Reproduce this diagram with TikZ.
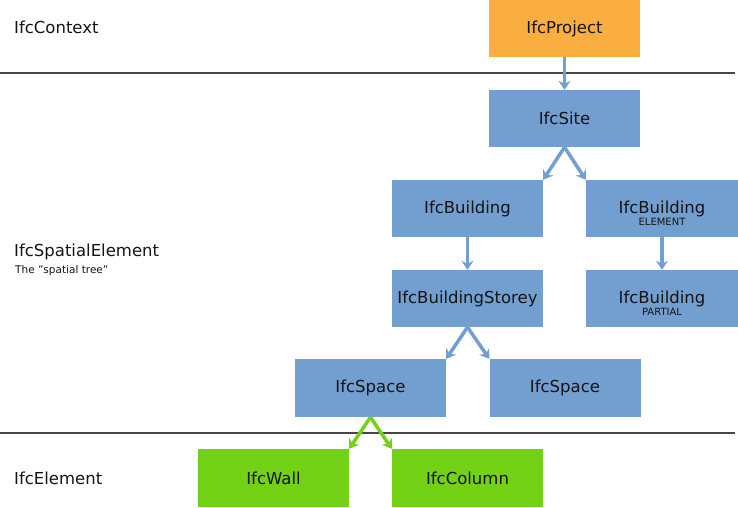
\documentclass[tikz,border=0pt]{standalone}
\usepackage{fontspec}
\setmainfont{DejaVu Sans}
\usetikzlibrary{arrows.meta}
\definecolor{ifcorange}{RGB}{251,174,64}
\definecolor{ifcblue}{RGB}{114,159,207}
\definecolor{ifcgreen}{RGB}{115,209,22}
\definecolor{ifctext}{RGB}{20,20,20}
\definecolor{ifcrule}{RGB}{70,70,70}
\tikzset{
  box/.style={rectangle, minimum width=151pt, minimum height=57pt, inner sep=0pt,
    text=ifctext, font=\fontsize{16.5}{19}\selectfont},
  ctxbox/.style={box, fill=ifcorange},
  spbox/.style={box, fill=ifcblue},
  elbox/.style={box, fill=ifcgreen},
  subtxt/.style={text=ifctext, font=\fontsize{10}{12}\selectfont, inner sep=0pt},
  lefttxt/.style={anchor=west, inner sep=0pt, text=ifctext, font=\fontsize{16.5}{19}\selectfont},
  leftsub/.style={anchor=west, inner sep=0pt, text=ifctext, font=\fontsize{10.5}{12}\selectfont},
  layerline/.style={draw=ifcrule, line width=1.2pt},
  bluearrow/.style={draw=ifcblue, line width=3.5pt, -{Stealth[length=9pt,width=12pt,inset=3pt]}},
  greenarrow/.style={draw=ifcgreen, line width=3.5pt, -{Stealth[length=9pt,width=12pt,inset=3pt]}},
}
\begin{document}
\begin{tikzpicture}[x=1pt,y=-1pt]
\useasboundingbox (0,0) rectangle (738,507);
% layer separators
\coordinate (l1a) at (0,73);
\coordinate (l1b) at (735,73);
\coordinate (l2a) at (0,433);
\coordinate (l2b) at (735,433);
\draw[layerline] (l1a) -- (l1b);
\draw[layerline] (l2a) -- (l2b);
% left labels
\node[lefttxt] (lctx) at (14,27) {IfcContext};
\node[lefttxt] (lsp) at (14,252) {IfcSpatialElement};
\node[leftsub] (lspsub) at (15,271) {The "spatial tree"};
\node[lefttxt] (lel) at (14,478) {IfcElement};
% boxes
\node[ctxbox] (proj) at (564.5,28.5) {IfcProject};
\node[spbox] (site) at (564.5,118.5) {IfcSite};
\node[spbox] (bld) at (467.5,208.5) {IfcBuilding};
\node[spbox, minimum width=152pt] (bldE) at (662,208.5) {IfcBuilding};
\node[subtxt] (bldEsub) at (662,222) {ELEMENT};
\node[spbox] (storey) at (467.5,298.5) {IfcBuildingStorey};
\node[spbox, minimum width=152pt] (bldP) at (662,298.5) {IfcBuilding};
\node[subtxt] (bldPsub) at (662,312) {PARTIAL};
\node[spbox, minimum height=58pt] (spL) at (370.5,388) {IfcSpace};
\node[spbox, minimum height=58pt] (spR) at (565,388) {IfcSpace};
\node[elbox, minimum height=58pt] (wall) at (273.5,478) {IfcWall};
\node[elbox, minimum height=58pt] (col) at (467.5,478) {IfcColumn};
% connectors
\draw[bluearrow] (proj.south) -- (site.north);
\draw[bluearrow] (site.south) -- (bld.north east);
\draw[bluearrow] (site.south) -- (bldE.north west);
\draw[bluearrow] (bld.south) -- (storey.north);
\draw[bluearrow] (bldE.south) -- (bldP.north);
\draw[bluearrow] (storey.south) -- (spL.north east);
\draw[bluearrow] (storey.south) -- (spR.north west);
\draw[greenarrow] (spL.south) -- (wall.north east);
\draw[greenarrow] (spL.south) -- (col.north west);
\end{tikzpicture}
\end{document}
